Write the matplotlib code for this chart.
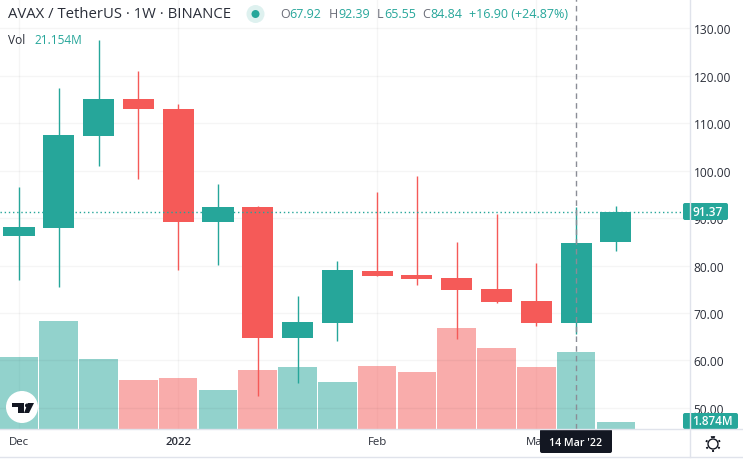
import matplotlib
matplotlib.use("Agg")
import matplotlib.pyplot as plt
from matplotlib.patches import Circle, FancyBboxPatch, Polygon, Rectangle

plt.rcParams['font.family'] = ['Open Sans', 'DejaVu Sans']

# weekly candles
opens = [86.2, 87.9, 107.4, 115.2, 113.0, 89.2, 92.4, 64.7, 67.8, 78.8, 78.0, 77.4, 75.0, 72.5, 67.92, 85.0]
highs = [96.6, 117.5, 127.5, 121.1, 114.0, 97.2, 92.6, 73.6, 81.0, 95.5, 98.9, 85.0, 90.9, 80.5, 92.39, 92.6]
lows = [76.9, 75.5, 101.0, 98.3, 79.0, 80.1, 52.6, 55.2, 64.2, 77.8, 76.0, 64.5, 72.0, 67.2, 65.55, 83.0]
closes = [88.1, 107.6, 115.2, 112.9, 89.2, 92.4, 64.7, 68.1, 79.0, 77.8, 77.1, 74.8, 72.3, 67.8, 84.84, 91.37]
volumes = [19.8, 29.7, 19.2, 13.5, 14.0, 10.7, 16.2, 17.0, 12.9, 17.3, 15.7, 27.7, 22.3, 17.0, 21.154, 1.874]
price_ticks = [50, 60, 70, 80, 90, 100, 110, 120, 130]
date_pos = [0, 4, 9, 13]
date_labels = ["Dec", "2022", "Feb", "Mar"]

GREEN = "#26a69a"
RED = "#f55a58"
W, H = 743, 460

fig = plt.figure(figsize=(W / 100, H / 100), dpi=100, facecolor="white")
rect = [0, 30 / H, 690 / W, 430 / H]

# volume underneath, price axis on top of it
ax_vol = fig.add_axes(rect)
ax = ax_vol.twinx()
for a in (ax_vol, ax):
    a.patch.set_visible(False)
    for s in a.spines.values():
        s.set_visible(False)
ax_vol.set_xlim(-0.477, 16.86)
ax_vol.set_ylim(0, 118.1)
ax_vol.set_yticks([])
ax.set_ylim(45.55, 136.17)

n = range(len(opens))
cols = [GREEN if c >= o else RED for o, c in zip(opens, closes)]
ax_vol.bar(n, volumes, width=0.97, color=cols, alpha=0.5, linewidth=0)

ax.vlines(n, lows, highs, colors=cols, linewidth=1, zorder=3)
ax.bar(n, [abs(c - o) for o, c in zip(opens, closes)], bottom=[min(o, c) for o, c in zip(opens, closes)],
       width=0.78, color=cols, linewidth=0, zorder=4)

ax.set_yticks(price_ticks)
ax.set_yticklabels(["%.2f" % p for p in price_ticks], fontsize=8.6, color="#2a2e39")
ax.tick_params(axis="y", length=0, pad=2.5)
ax_vol.set_xticks(date_pos)
ax_vol.set_xticklabels(date_labels, fontsize=8.2, color="#2a2e39")
ax_vol.tick_params(axis="x", length=0, pad=5)
ax_vol.get_xticklabels()[1].set_fontweight("semibold")
ax_vol.grid(True, axis="x", color="black", alpha=0.04, linewidth=1)
ax_vol.set_axisbelow(True)
ax.grid(True, axis="y", color="black", alpha=0.04, linewidth=1)
ax.set_axisbelow(True)

# last price line and crosshair
ax.axhline(closes[-1], color=GREEN, linewidth=1, linestyle=(0, (1, 2)), zorder=5)
ax.axvline(14, color="#8a8d96", linewidth=1, linestyle=(0, (4, 3)), zorder=6)

# everything around the plot, in pixels
top = fig.add_axes([0, 0, 1, 1], zorder=10)
top.set_xlim(0, W)
top.set_ylim(H, 0)
top.axis("off")
top.patch.set_visible(False)

top.plot([690, 690], [0, 458], color="#e0e3eb", lw=1)
top.plot([0, W], [430, 430], color="#e0e3eb", lw=1)
top.plot([0, W], [458, 458], color="#e0e3eb", lw=1)

top.text(8, 15, "AVAX / TetherUS · 1W · BINANCE", fontsize=10.7, color="#2a2e39", va="center")
top.add_patch(Circle((255.5, 15), 9, color=GREEN, alpha=0.15, lw=0))
top.add_patch(Circle((255.5, 15), 4, color=GREEN, lw=0))
for x, s, c in [(280.5, "O", "#6a6d78"), (289.5, "67.92", GREEN), (329, "H", "#6a6d78"), (338, "92.39", GREEN),
                (377, "L", "#6a6d78"), (384.5, "65.55", GREEN), (422, "C", "#6a6d78"), (430.5, "84.84", GREEN),
                (469, "+16.90 (+24.87%)", GREEN)]:
    top.text(x, 15, s, fontsize=9, color=c, va="center")
top.text(8, 40, "Vol", fontsize=8.6, color="#2a2e39", va="center")
top.text(34, 40, "21.154M", fontsize=8.6, color=GREEN, va="center")

# price tags
top.add_patch(FancyBboxPatch((683, 204), 45, 17, boxstyle="round,pad=0,rounding_size=2", color=GREEN, lw=0))
top.text(708, 212.5, "91.37", fontsize=8.6, color="white", ha="center", va="center", fontweight="semibold")
top.add_patch(FancyBboxPatch((683, 414), 55, 16, boxstyle="round,pad=0,rounding_size=2", color=GREEN, lw=0))
top.text(712, 422, "1.874M", fontsize=8.4, color="white", ha="center", va="center", fontweight="semibold")
top.add_patch(FancyBboxPatch((540, 430), 72, 24, boxstyle="round,pad=0,rounding_size=2", color="#131722", lw=0))
top.text(575.5, 444, "14 Mar '22", fontsize=7.7, color="white", ha="center", va="center", fontweight="semibold")

# logo
top.add_patch(Circle((22, 408), 16, color="white", lw=0))
top.add_patch(Rectangle((12, 404), 12, 4, color="#131722", lw=0))
top.add_patch(Rectangle((18, 404), 6, 10, color="#131722", lw=0))
top.add_patch(Circle((27, 406.5), 2, color="#131722", lw=0))
top.add_patch(Polygon([(29, 414), (24, 414), (28, 404), (34, 404)], color="#131722", lw=0))

# settings gear
top.add_patch(Circle((713, 445), 5, fill=False, ec="#131722", lw=1))
top.add_patch(Circle((713, 445), 7, fill=False, ec="#131722", lw=1.4, linestyle=(0, (1, 2.6))))

fig.savefig("out.png", dpi=100, facecolor="white")
